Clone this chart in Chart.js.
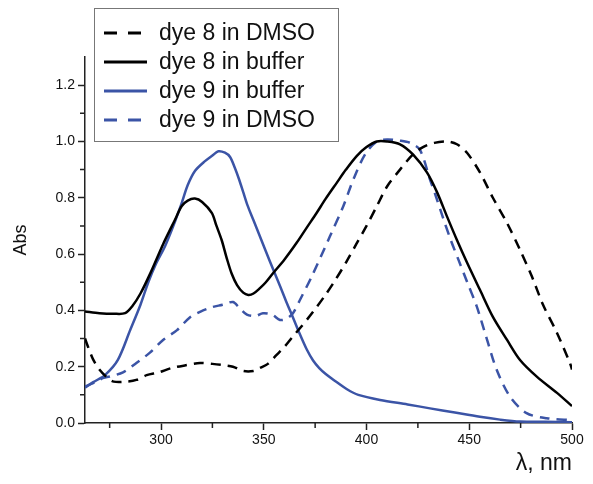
<!DOCTYPE html>
<html>
<head>
<meta charset="utf-8">
<title>Absorption spectra</title>
<script src="https://cdn.jsdelivr.net/npm/chart.js@4.4.1/dist/chart.umd.min.js"></script>
<style>
    html, body { margin: 0; padding: 0; background: #ffffff; }
    #wrap { width: 593px; height: 484px; }
</style>
</head>
<body>
<div id="wrap"><canvas id="absChart" width="593" height="484"></canvas></div>
<script>
// wavelengths (nm) and absorbance
const dye8DmsoNm = [263, 264.5, 267, 270, 274, 277, 283, 288, 293, 299, 305, 312, 319, 325, 330, 335, 340, 345, 348, 352, 356, 360, 364, 368, 374, 380, 385, 390, 395, 400, 405, 410, 416.3, 422.6, 427.5, 433, 439.2, 444, 448.9, 455.2, 461.5, 468.4, 474.7, 480.5, 485.9, 492.7, 499, 500];
const dye8DmsoAbs = [0.30, 0.27, 0.225, 0.19, 0.16, 0.147, 0.147, 0.153, 0.17, 0.18, 0.195, 0.205, 0.213, 0.21, 0.206, 0.2, 0.185, 0.185, 0.195, 0.21, 0.24, 0.27, 0.306, 0.34, 0.395, 0.455, 0.51, 0.57, 0.635, 0.70, 0.77, 0.84, 0.9, 0.954, 0.98, 0.995, 1.0, 0.99, 0.96, 0.89, 0.8, 0.71, 0.615, 0.52, 0.42, 0.32, 0.213, 0.19];

const dye8BufferNm = [263, 270, 277, 282.5, 286, 290, 295, 301, 306.8, 310, 313, 316.5, 320, 324.7, 327, 329.5, 332, 334.4, 337, 340, 342.5, 345, 348, 351, 354.6, 360, 366, 371, 375.7, 380, 385.5, 390, 395.2, 400, 405, 410, 416.3, 422.6, 429.4, 434.3, 439.2, 444, 448.9, 455.2, 461.5, 468.4, 474.7, 483, 492.7, 500];
const dye8BufferAbs = [0.396, 0.39, 0.388, 0.39, 0.415, 0.46, 0.535, 0.635, 0.722, 0.77, 0.79, 0.797, 0.785, 0.746, 0.7, 0.65, 0.585, 0.53, 0.49, 0.463, 0.455, 0.46, 0.478, 0.5, 0.533, 0.58, 0.64, 0.695, 0.746, 0.795, 0.853, 0.9, 0.948, 0.98, 1.0, 1.0, 0.99, 0.954, 0.89, 0.82, 0.733, 0.65, 0.57, 0.473, 0.377, 0.295, 0.224, 0.164, 0.107, 0.06];

const dye9BufferNm = [263, 267, 272.7, 279, 285, 290, 293.8, 297.5, 301.9, 306, 310, 313, 316.5, 321.4, 325, 327.9, 331.1, 333.6, 336, 338, 340, 342, 345, 348, 351, 354.6, 358, 361, 364.2, 367.6, 371, 374, 377, 380, 384, 390.5, 396, 406.6, 420, 430.9, 443, 455.2, 465, 474.7, 487, 500];
const dye9BufferAbs = [0.125, 0.145, 0.17, 0.224, 0.33, 0.42, 0.5, 0.565, 0.627, 0.7, 0.78, 0.845, 0.895, 0.93, 0.95, 0.965, 0.96, 0.945, 0.905, 0.865, 0.82, 0.775, 0.72, 0.665, 0.61, 0.545, 0.485, 0.43, 0.375, 0.315, 0.26, 0.222, 0.195, 0.175, 0.153, 0.12, 0.1, 0.082, 0.066, 0.052, 0.037, 0.022, 0.012, 0.005, 0.004, 0.003];

const dye9DmsoNm = [263, 268, 272, 275, 281.5, 288, 294.6, 301, 307.8, 314, 319, 325, 330, 335, 338, 341.8, 346, 349.6, 354, 357.9, 361, 364.2, 367.6, 373.3, 382.2, 388.7, 393.6, 399.3, 405, 410, 416, 421.2, 426, 430.9, 434, 437.4, 441, 445, 449, 453.6, 458.5, 463.3, 469.8, 477.9, 487.7, 500];
const dye9DmsoAbs = [0.13, 0.145, 0.16, 0.165, 0.18, 0.213, 0.25, 0.295, 0.33, 0.375, 0.395, 0.412, 0.42, 0.43, 0.41, 0.385, 0.38, 0.39, 0.385, 0.366, 0.37, 0.39, 0.437, 0.52, 0.663, 0.77, 0.865, 0.954, 1.0, 1.007, 1.003, 0.995, 0.97, 0.865, 0.8, 0.725, 0.65, 0.575, 0.5, 0.415, 0.3, 0.19, 0.094, 0.035, 0.017, 0.01];

const xTicks = [300, 350, 400, 450, 500];
const yTicks = [0.0, 0.2, 0.4, 0.6, 0.8, 1.0, 1.2];

const seriesLabels = ['dye 8 in DMSO', 'dye 8 in buffer', 'dye 9 in buffer', 'dye 9 in DMSO'];

const BLUE = '#3b54a6';
const AXIS = '#222222';
const FONT = "'Liberation Sans', Arial, sans-serif";

function toPoints(xs, ys) {
    return xs.map((x, i) => ({ x: x, y: ys[i] }));
}

function makeDataset(label, xs, ys, color, dash) {
    return {
        label: label,
        data: toPoints(xs, ys),
        borderColor: color,
        backgroundColor: color,
        borderWidth: 2.5,
        borderDash: dash,
        pointRadius: 0,
        tension: 0.3,
        fill: false
    };
}

// minor ticks halfway between majors
const minorTicks = {
    id: 'minorTicks',
    afterDraw(chart) {
        const ctx = chart.ctx;
        const xs = chart.scales.x;
        const ys = chart.scales.y;
        ctx.save();
        ctx.strokeStyle = AXIS;
        ctx.lineWidth = 1.5;
        ctx.beginPath();
        for (let i = 0; i < xTicks.length - 1; i++) {
            const px = xs.getPixelForValue((xTicks[i] + xTicks[i + 1]) / 2);
            ctx.moveTo(px, xs.top);
            ctx.lineTo(px, xs.top + 5);
        }
        const firstMinor = xs.getPixelForValue(xTicks[0] - (xTicks[1] - xTicks[0]) / 2);
        if (firstMinor >= xs.left) {
            ctx.moveTo(firstMinor, xs.top);
            ctx.lineTo(firstMinor, xs.top + 5);
        }
        for (let i = 0; i < yTicks.length - 1; i++) {
            const py = ys.getPixelForValue((yTicks[i] + yTicks[i + 1]) / 2);
            ctx.moveTo(ys.right, py);
            ctx.lineTo(ys.right - 5, py);
        }
        ctx.stroke();
        ctx.restore();
    }
};

// boxed legend in the top-left corner
const boxLegend = {
    id: 'boxLegend',
    afterDraw(chart) {
        const ctx = chart.ctx;
        const left = 94, top = 8, width = 244, height = 133;
        ctx.save();
        ctx.fillStyle = '#ffffff';
        ctx.fillRect(left, top, width, height);
        ctx.strokeStyle = '#777777';
        ctx.lineWidth = 1;
        ctx.strokeRect(left + 0.5, top + 0.5, width, height);
        ctx.font = '23px ' + FONT;
        ctx.textBaseline = 'middle';
        chart.data.datasets.forEach((ds, i) => {
            const y = 33 + i * 29;
            ctx.strokeStyle = ds.borderColor;
            ctx.lineWidth = 3;
            ctx.setLineDash(ds.borderDash.length ? [13, 11] : []);
            ctx.beginPath();
            ctx.moveTo(104, y);
            ctx.lineTo(147, y);
            ctx.stroke();
            ctx.setLineDash([]);
            ctx.fillStyle = '#111111';
            ctx.fillText(ds.label, 159, y + 1);
        });
        ctx.restore();
    }
};

new Chart(document.getElementById('absChart'), {
    type: 'line',
    data: {
        datasets: [
            makeDataset(seriesLabels[0], dye8DmsoNm, dye8DmsoAbs, '#000000', [10, 7]),
            makeDataset(seriesLabels[1], dye8BufferNm, dye8BufferAbs, '#000000', []),
            makeDataset(seriesLabels[2], dye9BufferNm, dye9BufferAbs, BLUE, []),
            makeDataset(seriesLabels[3], dye9DmsoNm, dye9DmsoAbs, BLUE, [10, 7])
        ]
    },
    options: {
        responsive: false,
        animation: false,
        layout: { padding: { left: 0, top: 57, right: 21, bottom: 0 } },
        plugins: {
            legend: { display: false },
            tooltip: { enabled: false }
        },
        scales: {
            x: {
                type: 'linear',
                min: 263,
                max: 500,
                afterFit(scale) { scale.height = 61; },
                afterBuildTicks(scale) { scale.ticks = xTicks.map(v => ({ value: v })); },
                grid: { drawOnChartArea: false, drawTicks: true, tickLength: 7, tickWidth: 1.5, tickColor: AXIS },
                border: { display: true, color: AXIS, width: 1.5 },
                ticks: { color: '#111111', font: { family: FONT, size: 14 }, padding: 2, maxRotation: 0 },
                title: {
                    display: true,
                    text: 'λ, nm',
                    align: 'end',
                    color: '#111111',
                    font: { family: FONT, size: 23 },
                    padding: { top: 2, bottom: 7 }
                }
            },
            y: {
                min: 0,
                max: 1.3,
                afterFit(scale) { scale.width = 85; },
                afterBuildTicks(scale) { scale.ticks = yTicks.map(v => ({ value: v })); },
                grid: { drawOnChartArea: false, drawTicks: true, tickLength: 7, tickWidth: 1.5, tickColor: AXIS },
                border: { display: true, color: AXIS, width: 1.5 },
                ticks: {
                    color: '#111111',
                    font: { family: FONT, size: 14 },
                    padding: 3,
                    callback: v => v.toFixed(1)
                },
                title: {
                    display: true,
                    text: 'Abs',
                    color: '#111111',
                    font: { family: FONT, size: 18 },
                    padding: { top: 10, bottom: 0 }
                }
            }
        }
    },
    plugins: [minorTicks, boxLegend]
});
</script>
</body>
</html>
